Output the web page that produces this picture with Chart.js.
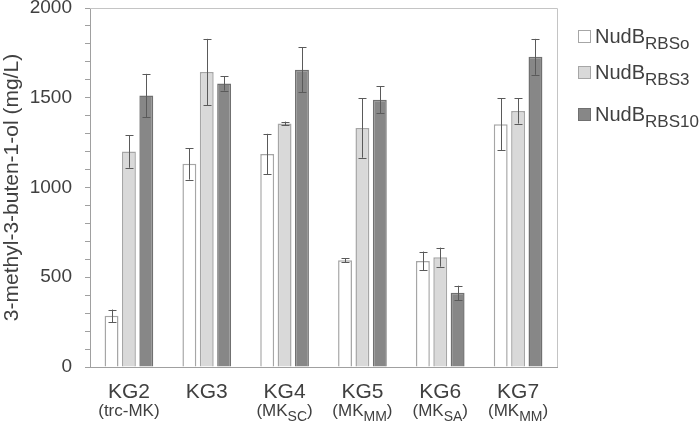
<!DOCTYPE html>
<html>
<head>
<meta charset="utf-8">
<script src="https://cdn.jsdelivr.net/npm/chart.js@4.4.1/dist/chart.umd.min.js"></script>
<style>
  html, body { margin: 0; padding: 0; background: #fff; }
  #wrap { width: 700px; height: 429px; }
</style>
</head>
<body>
<div id="wrap"><canvas id="myChart" width="700" height="429"></canvas></div>
<script>
// strains and their expression modules (main / sub parts of 2nd line)
const strains = ['KG2', 'KG3', 'KG4', 'KG5', 'KG6', 'KG7'];
const strainSub = [
  [['(trc-MK)', '']],
  [],
  [['(MK', ''], ['SC', 'sub'], [')', '']],
  [['(MK', ''], ['MM', 'sub'], [')', '']],
  [['(MK', ''], ['SA', 'sub'], [')', '']],
  [['(MK', ''], ['MM', 'sub'], [')', '']]
];

// 3-methyl-3-buten-1-ol titres (mg/L) and standard deviations
const rbsO = [285, 1132, 1186, 595, 591, 1353];
const rbsOErr = [35, 88, 113, 12, 52, 144];
const rbs3 = [1200, 1643, 1357, 1331, 612, 1426];
const rbs3Err = [90, 185, 10, 165, 53, 70];
const rbs10 = [1513, 1580, 1656, 1489, 413, 1728];
const rbs10Err = [120, 40, 124, 74, 40, 100];

const seriesNames = ['RBSo', 'RBS3', 'RBS10'];
const fills = ['#ffffff', '#d9d9d9', '#878787'];
const edges = ['#a6a6a6', '#a6a6a6', '#707070'];

const FONT = '"Liberation Sans", Arial, sans-serif';
const TEXT = '#404040';

const errorBars = {
  id: 'errorBars',
  afterDatasetsDraw(chart) {
    const ctx = chart.ctx;
    const y = chart.scales.y;
    ctx.save();
    ctx.strokeStyle = '#5a5a5a';
    ctx.lineWidth = 1;
    chart.data.datasets.forEach((ds, i) => {
      chart.getDatasetMeta(i).data.forEach((bar, j) => {
        const v = ds.data[j], e = ds.errors[j];
        const top = y.getPixelForValue(v + e);
        const bot = y.getPixelForValue(v - e);
        const x = Math.round(bar.x) + 0.5;
        ctx.beginPath();
        ctx.moveTo(x, top); ctx.lineTo(x, bot);
        ctx.moveTo(x - 4, Math.round(top) + 0.5); ctx.lineTo(x + 4, Math.round(top) + 0.5);
        ctx.moveTo(x - 4, Math.round(bot) + 0.5); ctx.lineTo(x + 4, Math.round(bot) + 0.5);
        ctx.stroke();
      });
    });
    ctx.restore();
  }
};

// text made of pieces, some of them subscripts
function drawRich(ctx, parts, x, y, size, subSize, drop, align) {
  let w = 0;
  parts.forEach(p => {
    ctx.font = (p[1] === 'sub' ? subSize : size) + 'px ' + FONT;
    w += ctx.measureText(p[0]).width;
  });
  let cx = align === 'center' ? x - w / 2 : x;
  parts.forEach(p => {
    const sub = p[1] === 'sub';
    ctx.font = (sub ? subSize : size) + 'px ' + FONT;
    ctx.fillText(p[0], cx, sub ? y + drop : y);
    cx += ctx.measureText(p[0]).width;
  });
}

const decorations = {
  id: 'decorations',
  afterDraw(chart) {
    const ctx = chart.ctx;
    const a = chart.chartArea;
    const xs = chart.scales.x;
    ctx.save();
    // top and right frame
    ctx.strokeStyle = '#c4c4c4';
    ctx.lineWidth = 1;
    ctx.beginPath();
    ctx.moveTo(a.left, Math.round(a.top) + 0.5);
    ctx.lineTo(Math.round(a.right) + 0.5, Math.round(a.top) + 0.5);
    ctx.lineTo(Math.round(a.right) + 0.5, a.bottom);
    ctx.stroke();

    // category labels
    ctx.fillStyle = TEXT;
    ctx.textBaseline = 'alphabetic';
    strains.forEach((s, i) => {
      const cx = xs.getPixelForValue(i);
      ctx.textAlign = 'center';
      ctx.font = '21px ' + FONT;
      ctx.fillText(s, cx, 398);
      ctx.textAlign = 'left';
      if (strainSub[i].length) {
        drawRich(ctx, strainSub[i], cx, 416, 17, 14, 5, 'center');
      }
    });

    // legend
    ctx.textAlign = 'left';
    const rows = [43, 79, 121];
    seriesNames.forEach((n, i) => {
      const ly = rows[i];
      ctx.fillStyle = fills[i];
      ctx.fillRect(578.5, ly - 12.5, 12, 12);
      ctx.strokeStyle = edges[i];
      ctx.strokeRect(578.5, ly - 12.5, 12, 12);
      ctx.fillStyle = TEXT;
      drawRich(ctx, [['NudB', ''], [n, 'sub']], 595, ly, 20, 17, 6, 'left');
    });
    ctx.restore();
  }
};

const makeSet = (i, data, errs) => ({
  label: 'NudB' + seriesNames[i],
  data: data,
  errors: errs,
  backgroundColor: fills[i],
  borderColor: edges[i],
  borderWidth: 1.5,
  borderSkipped: 'bottom',
  categoryPercentage: 0.67,
  barPercentage: 0.8
});

new Chart(document.getElementById('myChart'), {
  type: 'bar',
  data: {
    labels: strains,
    datasets: [
      makeSet(0, rbsO, rbsOErr),
      makeSet(1, rbs3, rbs3Err),
      makeSet(2, rbs10, rbs10Err)
    ]
  },
  options: {
    responsive: false,
    animation: false,
    layout: { autoPadding: false, padding: { top: 8, right: 143, left: 0, bottom: 0 } },
    plugins: {
      legend: { display: false },
      tooltip: { enabled: false }
    },
    scales: {
      x: {
        grid: { display: false },
        border: { color: '#a0a0a0', width: 1 },
        ticks: { display: false },
        afterFit(scale) { scale.height = 62; }
      },
      y: {
        min: 0,
        max: 2000,
        afterFit(scale) {
          scale.width = 90;
          scale.paddingTop = 0;
          scale.paddingBottom = 0;
        },
        border: { color: '#a0a0a0', width: 1 },
        grid: { drawOnChartArea: false, drawTicks: true, tickLength: 5, color: '#a0a0a0' },
        ticks: {
          stepSize: 100,
          autoSkip: false,
          padding: 13,
          color: TEXT,
          font: { family: FONT, size: 19 },
          callback: v => (v % 500 === 0 ? v : '')
        },
        title: {
          display: true,
          text: '3-methyl-3-buten-1-ol (mg/L)',
          color: TEXT,
          font: { family: FONT, size: 21 },
          padding: { top: 0, bottom: 0 }
        }
      }
    }
  },
  plugins: [errorBars, decorations]
});
</script>
</body>
</html>
